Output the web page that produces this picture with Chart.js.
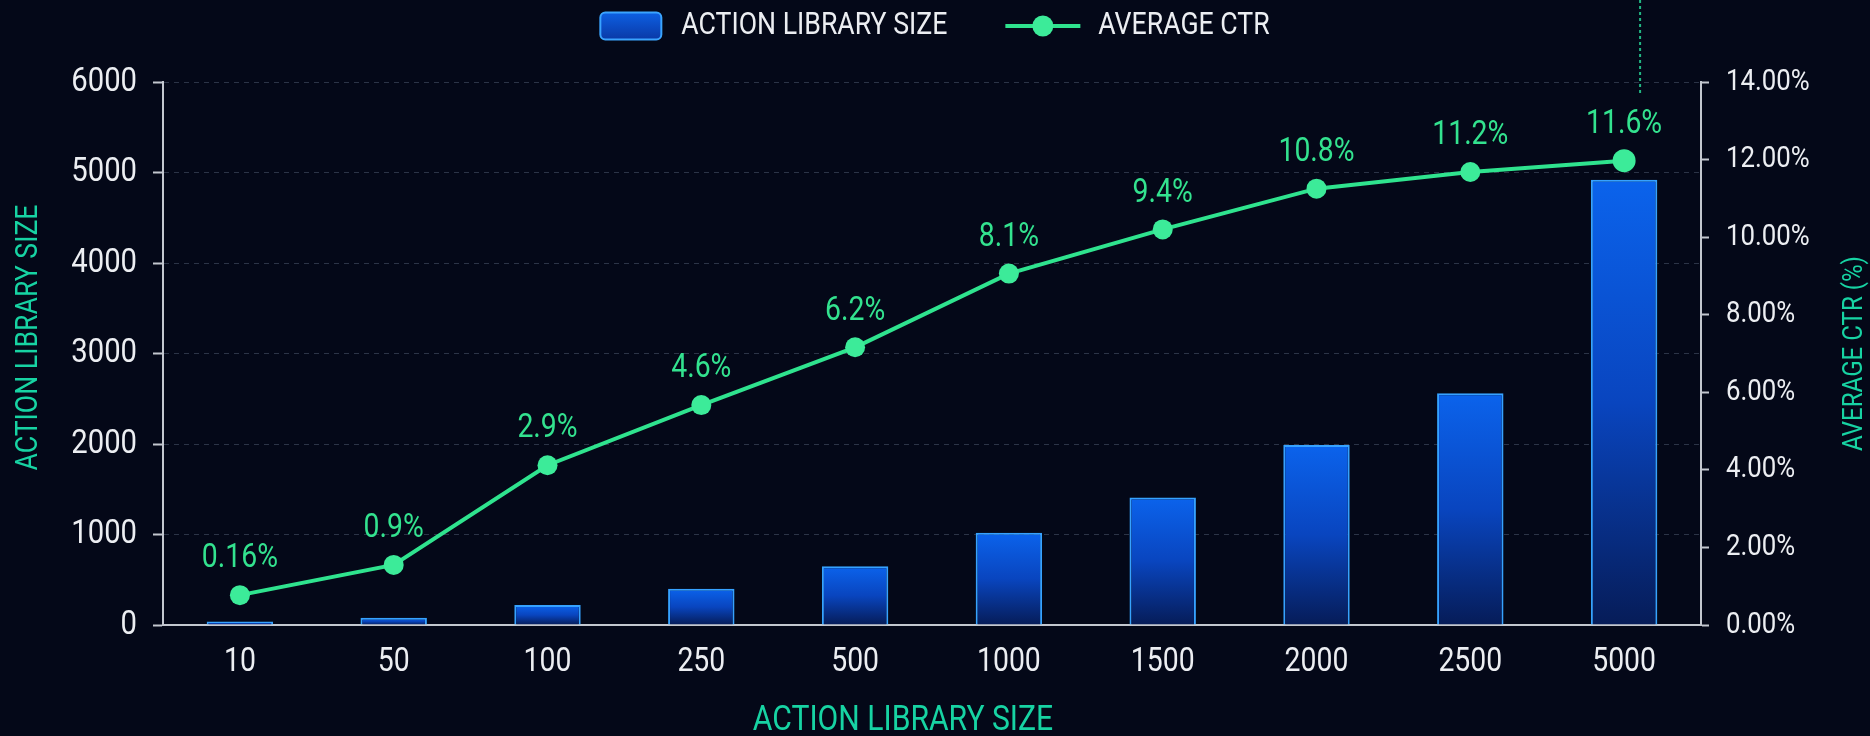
<!DOCTYPE html>
<html lang="en">
<head>
<meta charset="UTF-8">
<title>Action Library Size vs Average CTR</title>
<script src="https://cdn.jsdelivr.net/npm/chart.js"></script>
<style>
  html, body { margin: 0; padding: 0; background: #040818; }
  #wrap { width: 1870px; height: 736px; }
</style>
</head>
<body>
<div id="wrap"><canvas id="ctrChart" width="1870" height="736"></canvas></div>
<script>
// categories on the x axis
const librarySizes = ['10', '50', '100', '250', '500', '1000', '1500', '2000', '2500', '5000'];
// bar heights
const libraryBars = [40, 80, 220, 400, 650, 1020, 1410, 1990, 2560, 4920];
// line points (%)
const avgCtr = [0.77, 1.55, 4.12, 5.67, 7.16, 9.06, 10.2, 11.25, 11.68, 11.97];
// text printed above each point
const ctrLabels = ['0.16%', '0.9%', '2.9%', '4.6%', '6.2%', '8.1%', '9.4%', '10.8%', '11.2%', '11.6%'];
// axis ticks
const sizeTicks = [0, 1000, 2000, 3000, 4000, 5000, 6000];
const ctrTicks = [0, 2, 4, 6, 8, 10, 12, 14];

const FONT = 'Roboto, "Noto Sans", sans-serif';
const SQUEEZE = 0.86;   // the original uses a condensed face, so text is squeezed sideways
const BG = '#040818';
const AXIS = '#c3c7cf';
const TICK = '#eceef2';
const GRID = 'rgba(120,135,160,0.35)';
const TEAL = '#17d3a3';
const GREEN = '#2fe38e';

// squeeze every text drawn on this canvas to imitate a condensed font
const condensePlugin = {
    id: 'condense',
    beforeInit(chart) {
        const c = chart.ctx;
        const fill = c.fillText.bind(c);
        c.fillText = function (text, x, y, maxWidth) {
            let w = c.measureText(text).width * SQUEEZE;
            if (maxWidth !== undefined && maxWidth < w) w = maxWidth;
            fill(text, x, y, w);
        };
    }
};

// background
const bgPlugin = {
    id: 'bg',
    beforeDraw(chart) {
        const c = chart.ctx;
        c.save();
        c.fillStyle = BG;
        c.fillRect(0, 0, chart.width, chart.height);
        c.restore();
    }
};

// legend drawn at the top, bar swatch + line-with-dot swatch
const legendPlugin = {
    id: 'topLegend',
    afterDraw(chart) {
        const c = chart.ctx;
        const lineSet = chart.data.datasets[0];
        const barSet = chart.data.datasets[1];
        c.save();
        c.font = '31px ' + FONT;
        c.textBaseline = 'middle';
        c.textAlign = 'left';
        const w1 = c.measureText(barSet.label).width * SQUEEZE;
        const w2 = c.measureText(lineSet.label).width * SQUEEZE;
        const total = 61 + 20 + w1 + 58 + 75 + 18 + w2;
        let x = chart.width / 2 - total / 2;
        const cy = 26;

        // bar swatch
        const g = c.createLinearGradient(0, cy - 13, 0, cy + 13);
        g.addColorStop(0, '#0d5fe2');
        g.addColorStop(1, '#0a3aa8');
        c.beginPath();
        c.roundRect(x, cy - 13.5, 61, 27, 5);
        c.fillStyle = g;
        c.fill();
        c.lineWidth = 2;
        c.strokeStyle = '#3aa4ff';
        c.stroke();
        x += 61 + 20;
        c.fillStyle = TICK;
        c.fillText(barSet.label, x, cy);
        x += w1 + 58;

        // line swatch
        c.beginPath();
        c.moveTo(x, cy);
        c.lineTo(x + 75, cy);
        c.lineWidth = 4;
        c.strokeStyle = GREEN;
        c.stroke();
        c.beginPath();
        c.arc(x + 37.5, cy, 10.5, 0, Math.PI * 2);
        c.fillStyle = '#3ceb99';
        c.fill();
        x += 75 + 18;
        c.fillStyle = TICK;
        c.fillText(lineSet.label, x, cy);
        c.restore();
    }
};

// value labels above the line points, axis titles, dotted marker
const extrasPlugin = {
    id: 'extras',
    afterDatasetsDraw(chart) {
        const c = chart.ctx;
        const meta = chart.getDatasetMeta(0);
        c.save();
        c.font = '33px ' + FONT;
        c.fillStyle = '#33e28f';
        c.textAlign = 'center';
        c.textBaseline = 'middle';
        meta.data.forEach((pt, i) => {
            c.fillText(ctrLabels[i], pt.x, pt.y - 36);
        });
        c.restore();
    },
    afterDraw(chart) {
        const c = chart.ctx;
        const area = chart.chartArea;
        const midY = (area.top + area.bottom) / 2;
        c.save();
        c.fillStyle = TEAL;
        c.textAlign = 'center';
        c.textBaseline = 'middle';

        // bottom title, sits a bit left of centre in the original
        c.font = '35px ' + FONT;
        c.fillText(chart.data.datasets[1].label, (area.left + area.right) / 2 - 29, chart.height - 15);

        // left title, reading upward
        c.save();
        c.translate(29, midY - 16);
        c.rotate(-Math.PI / 2);
        c.font = '31px ' + FONT;
        c.fillText(chart.data.datasets[1].label, 0, 0);
        c.restore();

        // right title, also reading upward
        c.save();
        c.translate(chart.scales.y1.right - 15, midY);
        c.rotate(-Math.PI / 2);
        c.font = '28px ' + FONT;
        c.fillText('AVERAGE CTR (%)', 0, 0);
        c.restore();
        c.restore();

        // dotted marker above the last category
        const mx = chart.scales.x.getPixelForValue(librarySizes.length - 1) + 16;
        c.save();
        c.setLineDash([3, 3]);
        c.lineWidth = 2;
        c.strokeStyle = 'rgba(40,215,150,0.85)';
        c.beginPath();
        c.moveTo(mx, 0);
        c.lineTo(mx, area.top + 14);
        c.stroke();
        c.restore();
    }
};

function barGradient(ctx) {
    const chart = ctx.chart;
    const area = chart.chartArea;
    if (!area || ctx.type !== 'data') return '#0a4fd0';
    const top = chart.scales.y.getPixelForValue(ctx.raw);
    const g = chart.ctx.createLinearGradient(0, top, 0, area.bottom);
    g.addColorStop(0, '#0b63ec');
    g.addColorStop(0.5, '#0945bf');
    g.addColorStop(1, '#061c58');
    return g;
}

const ctx = document.getElementById('ctrChart').getContext('2d');
new Chart(ctx, {
    data: {
        labels: librarySizes,
        datasets: [
            {
                type: 'line',
                label: 'AVERAGE CTR',
                data: avgCtr,
                yAxisID: 'y1',
                borderColor: GREEN,
                borderWidth: 4,
                pointRadius: [10, 10, 10, 10, 10, 10, 10, 10, 10, 11.5],
                pointBackgroundColor: '#3ceb99',
                pointBorderWidth: 0,
                tension: 0,
                order: 0
            },
            {
                type: 'bar',
                label: 'ACTION LIBRARY SIZE',
                data: libraryBars,
                yAxisID: 'y',
                backgroundColor: barGradient,
                borderColor: '#36a2ff',
                borderWidth: 2,
                barPercentage: 0.54,
                categoryPercentage: 0.8,
                order: 1
            }
        ]
    },
    options: {
        responsive: false,
        animation: false,
        layout: { padding: { top: 82, left: 0, right: 0, bottom: 0 } },
        plugins: {
            legend: { display: false },
            tooltip: { enabled: false }
        },
        scales: {
            x: {
                grid: { display: false },
                border: { display: true, color: AXIS, width: 2 },
                ticks: { color: TICK, font: { family: FONT, size: 33 }, padding: 10 },
                afterFit(s) { s.height = 111; }
            },
            y: {
                position: 'left',
                min: 0,
                max: 6000,
                afterBuildTicks(s) { s.ticks = sizeTicks.map(v => ({ value: v })); },
                grid: { color: GRID, lineWidth: 1, tickColor: AXIS, tickLength: 10, tickWidth: 2 },
                border: { color: AXIS, width: 2, dash: [5, 5] },
                ticks: {
                    color: TICK,
                    font: { family: FONT, size: 34 },
                    padding: 16,
                    callback: v => String(v)
                },
                afterFit(s) { s.width = 163; }
            },
            y1: {
                position: 'right',
                min: 0,
                max: 14,
                afterBuildTicks(s) { s.ticks = ctrTicks.map(v => ({ value: v })); },
                grid: { drawOnChartArea: false, color: AXIS, tickLength: 8, tickWidth: 2 },
                border: { color: AXIS, width: 2 },
                ticks: {
                    color: TICK,
                    font: { family: FONT, size: 30 },
                    padding: 17,
                    callback: v => Number(v).toFixed(2) + '%'
                },
                afterFit(s) { s.width = 169; }
            }
        }
    },
    plugins: [condensePlugin, bgPlugin, legendPlugin, extrasPlugin]
});
</script>
</body>
</html>
